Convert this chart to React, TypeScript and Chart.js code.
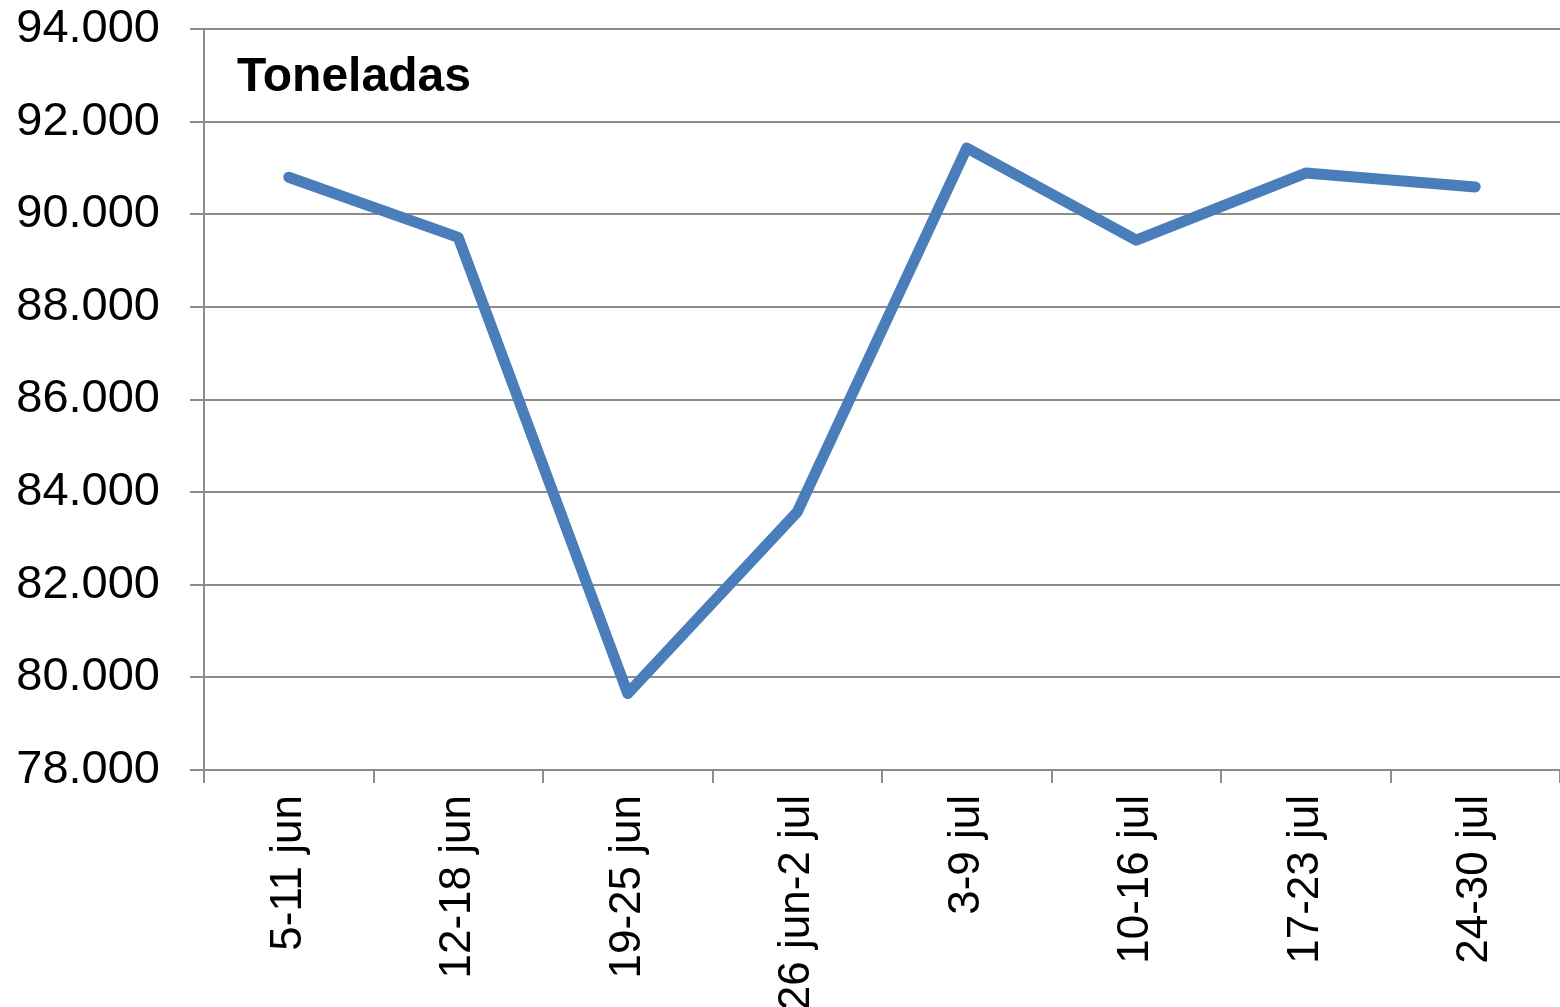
import React, { useEffect, useRef } from "react";
import { Chart, registerables } from "chart.js";

Chart.register(...registerables);

const categories = ["5-11 jun", "12-18 jun", "19-25 jun", "26 jun-2 jul", "3-9 jul", "10-16 jul", "17-23 jul", "24-30 jul"];
const toneladas = [90800, 89500, 79650, 83570, 91430, 89440, 90890, 90590];
const yMin = 78000;
const yMax = 94000;
const yStep = 2000;
const titleText = "Toneladas";

const FONT = "'Liberation Sans', Arial, sans-serif";

const titlePlugin = {
  id: "innerTitle",
  afterDraw(chart: any) {
    const { ctx, chartArea } = chart;
    ctx.save();
    ctx.font = `bold 48px ${FONT}`;
    ctx.fillStyle = "#000";
    ctx.textBaseline = "middle";
    ctx.textAlign = "left";
    ctx.fillText(titleText, chartArea.left + 33, chartArea.top + 49);
    ctx.restore();
  },
};

export default function App() {
  const ref = useRef<HTMLCanvasElement | null>(null);
  useEffect(() => {
    if (!ref.current) return;
    const chart = new Chart(ref.current, {
      type: "line",
      data: {
        labels: categories,
        datasets: [
          {
            data: toneladas,
            borderColor: "#4a7ebb",
            backgroundColor: "#4a7ebb",
            borderWidth: 11,
            pointRadius: 0,
            tension: 0,
            borderCapStyle: "round",
            borderJoinStyle: "round",
          },
        ],
      },
      plugins: [titlePlugin],
      options: {
        animation: false,
        responsive: false,
        maintainAspectRatio: false,
        layout: { padding: { top: 29, right: 0, left: 0, bottom: 0 } },
        plugins: { legend: { display: false }, tooltip: { enabled: false }, title: { display: false } },
        scales: {
          x: {
            type: "category",
            offset: true,
            grid: { offset: true, drawOnChartArea: false, drawTicks: true, tickLength: 13, color: "#8c8c8c", lineWidth: 2 },
            border: { display: true, color: "#8c8c8c", width: 2 },
            ticks: {
              minRotation: 90,
              maxRotation: 90,
              autoSkip: false,
              padding: 12,
              color: "#000",
              font: { family: FONT, size: 44 },
            },
            afterFit(scale: any) {
              scale.height = 237;
              scale.paddingLeft = 0;
              scale.paddingRight = 0;
            },
          },
          y: {
            min: yMin,
            max: yMax,
            grid: { drawOnChartArea: true, drawTicks: true, tickLength: 14, color: "#8c8c8c", lineWidth: 2 },
            border: { display: true, color: "#8c8c8c", width: 2 },
            ticks: {
              stepSize: yStep,
              padding: 30,
              color: "#000",
              font: { family: FONT, size: 47 },
              callback: (v: any) => Number(v).toLocaleString("de-DE", { minimumFractionDigits: 0 }).replace(/,/g, "."),
            },
            afterFit(scale: any) {
              scale.width = 204;
              scale.paddingTop = 0;
              scale.paddingBottom = 0;
            },
          },
        },
      },
    });
    return () => chart.destroy();
  }, []);
  return (
    <div style={{ position: "fixed", left: 0, top: 0, width: 1560, height: 1007, background: "#fff" }}>
      <canvas ref={ref} width={1560} height={1007} style={{ width: 1560, height: 1007, display: "block" }} />
    </div>
  );
}
